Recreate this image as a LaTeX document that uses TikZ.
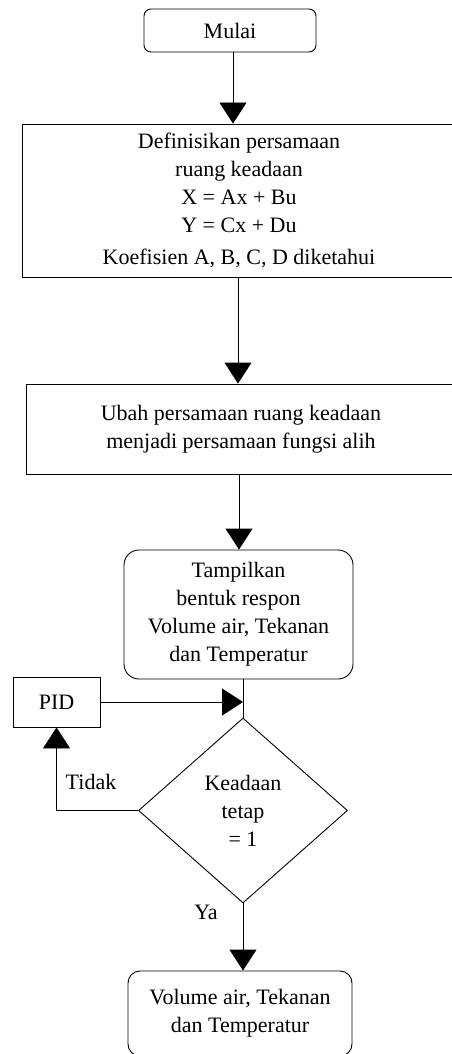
\documentclass[tikz,border=0pt]{standalone}
\usepackage{fontspec}
\setmainfont{Liberation Serif}
\usetikzlibrary{arrows.meta,shapes.geometric}
\begin{document}
\begin{tikzpicture}[x=1pt,y=-1pt,
  every node/.style={font=\fontsize{22}{28}\selectfont, align=center, inner sep=0pt, line width=0.9pt},
  box/.style={draw, rectangle},
  rbox/.style={draw, rectangle, rounded corners=#1},
  dbox/.style={draw, diamond, minimum width=209pt, minimum height=185pt},
  arr/.style={line width=0.9pt, -{Triangle[length=21pt,width=27pt]}},
  ln/.style={line width=0.9pt}]
\useasboundingbox (0,0) rectangle (451,1054);
\node[rbox=7pt, minimum width=172pt, minimum height=43pt] (mulai) at (230,30.5) {Mulai};
\node[box, minimum width=434pt, minimum height=153pt] (def) at (239,200.5)
  {Definisikan persamaan\\ruang keadaan\\X = Ax + Bu\\Y = Cx + Du\\[4pt]Koefisien A, B, C, D diketahui};
\node[box, minimum width=430pt, minimum height=90pt] (ubah) at (241,429)
  {Ubah persamaan ruang keadaan\\menjadi persamaan fungsi alih};
\node[rbox=15pt, minimum width=229pt, minimum height=129pt] (tampil) at (238.5,614.5)
  {Tampilkan\\bentuk respon\\Volume air, Tekanan\\dan Temperatur};
\node[box, minimum width=87pt, minimum height=50pt] (pid) at (56.5,702) {PID};
\node[dbox] (dia) at (243,810.5) {Keadaan\\tetap\\= 1};
\node[rbox=12pt, minimum width=224pt, minimum height=85pt] (final) at (240,1013.5)
  {Volume air, Tekanan\\dan Temperatur};
\node (tidak) at (91,782) {Tidak};
\node (ya) at (206,912) {Ya};
\draw[arr] ([xshift=3pt]mulai.south) -- ([xshift=3pt]mulai.south |- def.north);
\draw[arr] ([xshift=-1pt]def.south) -- ([xshift=-1pt]def.south |- ubah.north);
\draw[arr] ([xshift=-2pt]ubah.south) -- ([xshift=-2pt]ubah.south |- tampil.north);
\draw[ln] (tampil.south -| dia.north) -- (dia.north);
\draw[arr] (pid.east) -- (pid.east -| dia.north);
\draw[arr] (dia.west) -| (pid.south);
\draw[arr] (dia.south) -- (dia.south |- final.north);
\end{tikzpicture}
\end{document}
